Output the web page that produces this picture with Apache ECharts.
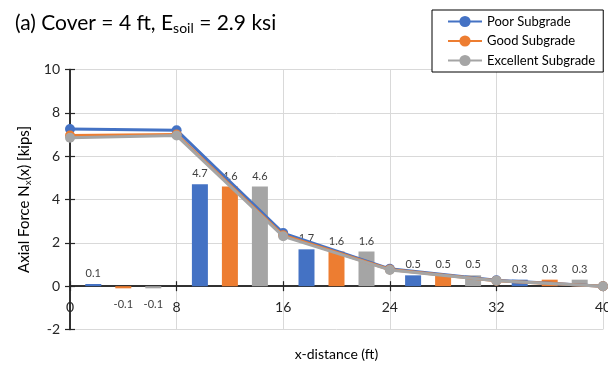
<!DOCTYPE html>
<html><head><meta charset="utf-8">
<script src="https://cdn.jsdelivr.net/npm/echarts@6/dist/echarts.min.js"></script>
<style>html,body{margin:0;padding:0;background:#fff}#c{width:608px;height:367px}</style>
</head><body><div id="c"></div>
<script>
// ---- data ----
const xPoints = [0, 8, 16, 24, 32, 40];
const poorLine = [7.25, 7.2, 2.45, 0.8, 0.27, 0];
const goodLine = [6.95, 7.0, 2.35, 0.77, 0.25, 0];
const excellentLine = [6.85, 6.95, 2.3, 0.75, 0.25, 0];
const barGroups = ['0-8', '8-16', '16-24', '24-32', '32-40'];
const poorBars = [0.1, 4.7, 1.7, 0.5, 0.3];
const goodBars = [-0.1, 4.6, 1.6, 0.5, 0.3];
const excellentBars = [-0.1, 4.6, 1.6, 0.5, 0.3];
const xTicks = [0, 8, 16, 24, 32, 40];
const yTicks = [-2, 0, 2, 4, 6, 8, 10];
const seriesNames = ['Poor Subgrade', 'Good Subgrade', 'Excellent Subgrade'];
const colors = ['#4472C4', '#ED7D31', '#A5A5A5'];

const FONT = 'Lato';
const chart = echarts.init(document.getElementById('c'), null, {renderer: 'canvas'});

function pts(ys) { return xPoints.map((x, i) => [x, ys[i]]); }
function barData(vals) {
  return vals.map(v => v < 0
    ? {value: v, label: {position: 'bottom', distance: 11}}
    : v);
}
function lineSeries(i, ys) {
  return {
    name: seriesNames[i], type: 'line', xAxisIndex: 0, yAxisIndex: 0,
    data: pts(ys), symbol: 'circle', symbolSize: 10,
    lineStyle: {width: 3, color: colors[i]},
    itemStyle: {color: colors[i]},
    z: 5 + i, animation: false
  };
}
function barSeries(i, vals) {
  return {
    name: seriesNames[i] + ' bar', type: 'bar', xAxisIndex: 2, yAxisIndex: 0,
    data: barData(vals), barWidth: 16, barGap: '87.5%',
    itemStyle: {color: colors[i]},
    label: {show: true, position: 'top', distance: 5, color: '#404040',
            fontFamily: FONT, fontSize: 11,
            formatter: p => p.value.toFixed(1)},
    z: 2, animation: false
  };
}

const option = {
  animation: false,
  title: {
    text: '(a) Cover = 4 ft, E{sub|soil} = 2.9 ksi',
    left: 10, top: 6,
    textStyle: {fontFamily: FONT, fontSize: 21, fontWeight: 'normal', color: '#000',
      rich: {sub: {fontFamily: FONT, fontSize: 14, verticalAlign: 'bottom', padding: [10, 0, 0, 0], color: '#000'}}}
  },
  legend: {
    data: seriesNames, orient: 'vertical', left: 432, top: 10,
    padding: [5, 8, 5, 15], itemGap: 6.5, itemWidth: 34, itemHeight: 14,
    borderColor: '#000', borderWidth: 1, backgroundColor: '#fff',
    textStyle: {fontFamily: FONT, fontSize: 13, color: '#000'}
  },
  grid: {left: 70, right: 5, top: 69.5, bottom: 37.5, containLabel: false, outerBoundsMode: 'none'},
  xAxis: [
    {type: 'value', min: xTicks[0], max: xTicks[xTicks.length - 1], interval: 8,
     position: 'bottom',
     axisLine: {show: true, onZero: true, onZeroAxisIndex: 0, lineStyle: {color: '#262626', width: 1.5}},
     axisTick: {show: true, length: 5, lineStyle: {color: '#262626', width: 1.2}},
     axisLabel: {margin: -29.5, fontFamily: FONT, fontSize: 14, color: '#262626'},
     splitLine: {show: true, lineStyle: {color: '#d9d9d9', width: 1}},
     name: 'x-distance (ft)', nameLocation: 'middle', nameGap: 17.5,
     nameTextStyle: {fontFamily: FONT, fontSize: 14, color: '#000'}},
    {type: 'value', min: xTicks[0], max: xTicks[xTicks.length - 1], interval: 8,
     position: 'top',
     axisLine: {show: true, onZero: true, onZeroAxisIndex: 0, lineStyle: {color: '#262626', width: 1.5}},
     axisTick: {show: true, length: 5, lineStyle: {color: '#262626', width: 1.2}},
     axisLabel: {show: false}, splitLine: {show: false}},
    {type: 'category', data: barGroups, show: false, boundaryGap: true}
  ],
  yAxis: [
    {type: 'value', min: yTicks[0], max: yTicks[yTicks.length - 1], interval: 2,
     position: 'left',
     axisLine: {show: true, onZero: true, onZeroAxisIndex: 0, lineStyle: {color: '#262626', width: 1.5}},
     axisTick: {show: true, length: 5, lineStyle: {color: '#262626', width: 1.2}},
     axisLabel: {margin: 10, fontFamily: FONT, fontSize: 14, color: '#262626'},
     splitLine: {show: true, lineStyle: {color: '#d9d9d9', width: 1}},
     name: 'Axial Force N{sub|x}(x) [kips]', nameLocation: 'middle', nameGap: 32,
     nameTextStyle: {fontFamily: FONT, fontSize: 15, color: '#000',
       rich: {sub: {fontFamily: FONT, fontSize: 10, verticalAlign: 'bottom', padding: [8, 0, 0, 0], color: '#000'}}}},
    {type: 'value', min: yTicks[0], max: yTicks[yTicks.length - 1], interval: 2,
     position: 'right',
     axisLine: {show: true, onZero: true, onZeroAxisIndex: 0, lineStyle: {color: '#262626', width: 1.5}},
     axisTick: {show: true, length: 5, lineStyle: {color: '#262626', width: 1.2}},
     axisLabel: {show: false}, splitLine: {show: false}}
  ],
  series: [
    barSeries(0, poorBars), barSeries(1, goodBars), barSeries(2, excellentBars),
    lineSeries(0, poorLine), lineSeries(1, goodLine), lineSeries(2, excellentLine)
  ]
};
chart.setOption(option);
</script></body></html>
